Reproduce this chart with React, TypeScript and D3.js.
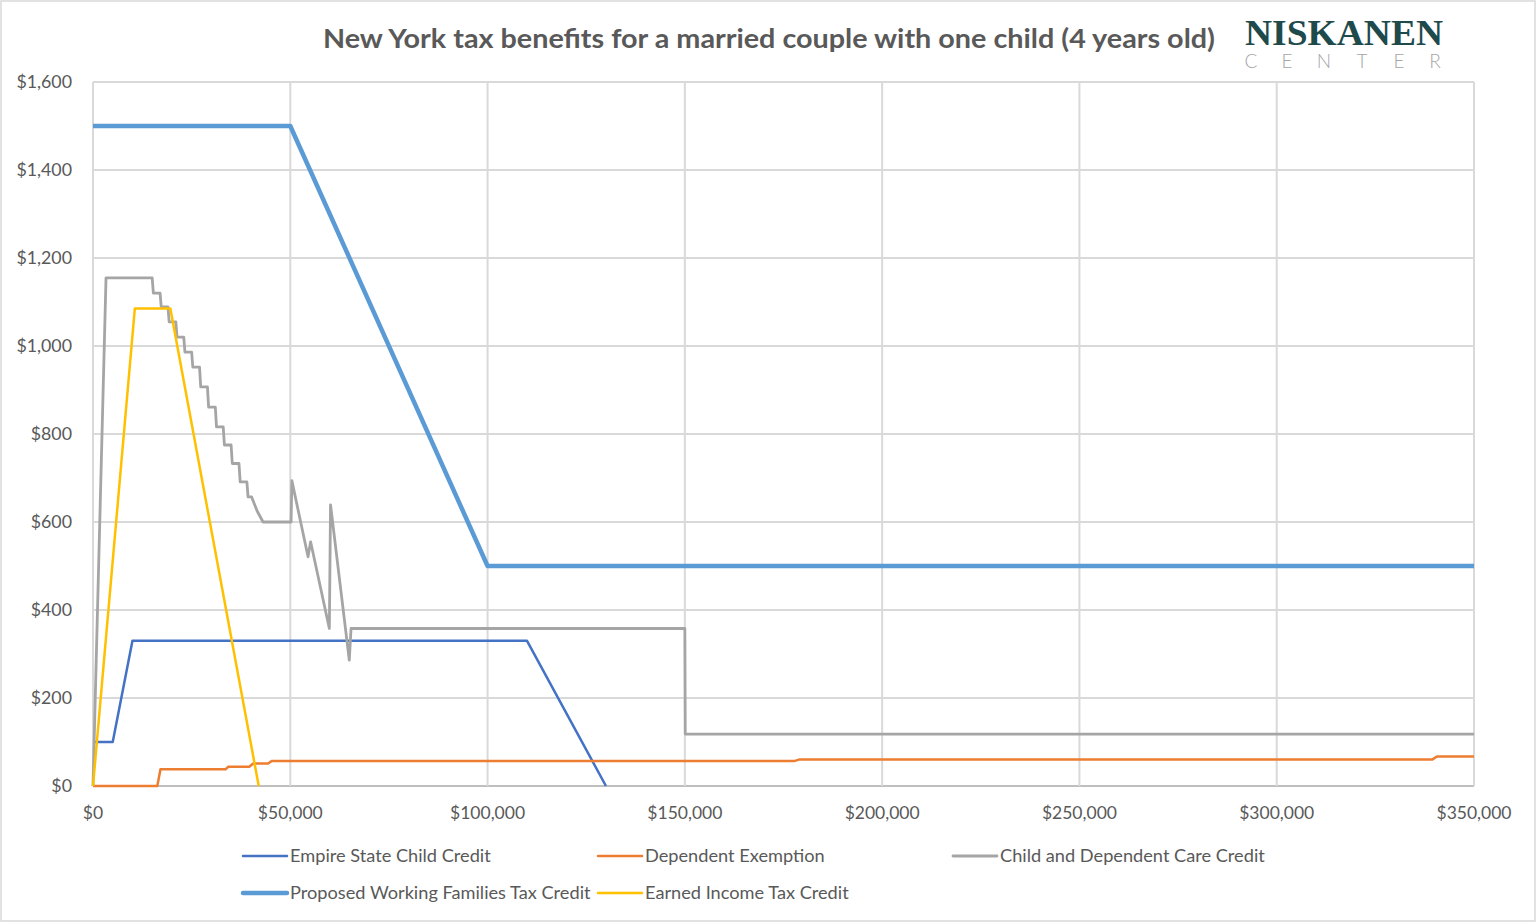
import React from "react";
import * as d3 from "d3";

const incomeTicks = [0, 50000, 100000, 150000, 200000, 250000, 300000, 350000];
const valueTicks = [0, 200, 400, 600, 800, 1000, 1200, 1400, 1600];

const escIncome = [0, 5000, 10000, 110000, 130000];
const escValue = [100, 100, 330, 330, 0];

const depIncome = [0, 16300, 17100, 33600, 34300, 39600, 40600, 44400, 45300, 177900, 178900, 339400, 340600, 350000];
const depValue = [0, 0, 38, 38, 44, 44, 51, 51, 57, 57, 60, 60, 67, 67];

const cdccIncome = [0, 3300, 15000, 15300, 17000, 17300, 19000, 19300, 21000, 21300, 23000, 23300, 25000, 25300, 27000, 27300, 29000, 29300, 31000, 31300, 33000, 33300, 35000, 35300, 37000, 37300, 39000, 39300, 40200, 41600, 43100, 50200, 50400, 54500, 55150, 59900, 60200, 64950, 65400, 150000, 150100, 350000];
const cdccValue = [0, 1155, 1155, 1120, 1120, 1089, 1089, 1055, 1055, 1020, 1020, 986, 986, 952, 952, 907, 907, 861, 861, 816, 816, 775, 775, 733, 733, 691, 691, 657, 657, 625, 600, 600, 694, 521, 555, 358, 639, 286, 358, 358, 118, 118];

const wftcIncome = [0, 50000, 100000, 350000];
const wftcValue = [1500, 1500, 500, 500];

const eitcIncome = [0, 10600, 19600, 42000];
const eitcValue = [0, 1085, 1085, 0];

const seriesNames = [
  "Empire State Child Credit",
  "Dependent Exemption",
  "Child and Dependent Care Credit",
  "Proposed Working Families Tax Credit",
  "Earned Income Tax Credit",
];

const FONT = "Lato, 'Open Sans', sans-serif";
const TXT = "#595959";

export default function App() {
  const W = 1536, H = 923;
  const x = d3.scaleLinear().domain([0, 350000]).range([93, 1474]);
  const y = d3.scaleLinear().domain([0, 1600]).range([786, 82]);
  const line = d3.line<[number, number]>().x((d) => x(d[0])).y((d) => y(d[1]));
  const zip = (a: number[], b: number[]) => a.map((v, i) => [v, b[i]] as [number, number]);

  const series = [
    { name: seriesNames[0], pts: zip(escIncome, escValue), color: "#4472C4", w: 2.5 },
    { name: seriesNames[1], pts: zip(depIncome, depValue), color: "#ED7D31", w: 2.5 },
    { name: seriesNames[2], pts: zip(cdccIncome, cdccValue), color: "#A5A5A5", w: 2.8 },
    { name: seriesNames[3], pts: zip(wftcIncome, wftcValue), color: "#5B9BD5", w: 4.5 },
    { name: seriesNames[4], pts: zip(eitcIncome, eitcValue), color: "#FFC000", w: 2.5 },
  ];

  const legendPos = [
    { lx: 243, row: 0 },
    { lx: 598, row: 0 },
    { lx: 953, row: 0 },
    { lx: 243, row: 1 },
    { lx: 598, row: 1 },
  ];
  const legendY = [856, 893];
  const fmt = (v: number) => "$" + d3.format(",")(v);
  const centerLetters = ["C", "E", "N", "T", "E", "R"];
  const centerX = [1251, 1287, 1324, 1362, 1399, 1435];

  return (
    <svg width={W} height={H} style={{ position: "absolute", left: 0, top: 0, background: "#fff" }} fontFamily={FONT}>
      <rect x={1} y={1} width={1534} height={920} fill="#fff" stroke="#d9d9d9" strokeWidth={1.5} />
      {valueTicks.map((v) => (
        <line key={"gy" + v} x1={93} x2={1474} y1={y(v)} y2={y(v)} stroke={v === 0 ? "#bfbfbf" : "#d9d9d9"} strokeWidth={2} />
      ))}
      {incomeTicks.map((v) => (
        <line key={"gx" + v} x1={x(v)} x2={x(v)} y1={82} y2={786} stroke="#d9d9d9" strokeWidth={2} />
      ))}
      {valueTicks.map((v) => (
        <text key={"ty" + v} x={72} y={y(v)} dy="0.35em" textAnchor="end" fontSize={17.8} fill={TXT}>
          {fmt(v)}
        </text>
      ))}
      {incomeTicks.map((v) => (
        <text key={"tx" + v} x={x(v)} y={819} textAnchor="middle" fontSize={17.5} fill={TXT}>
          {fmt(v)}
        </text>
      ))}
      {series.map((s) => (
        <path key={s.name} d={line(s.pts) || ""} fill="none" stroke={s.color} strokeWidth={s.w} strokeLinejoin="round" />
      ))}
      {series.map((s, i) => (
        <g key={"lg" + i}>
          <line x1={legendPos[i].lx} x2={legendPos[i].lx + 44} y1={legendY[legendPos[i].row]} y2={legendY[legendPos[i].row]} stroke={s.color} strokeWidth={s.w} strokeLinecap="round" />
          <text x={legendPos[i].lx + 47} y={legendY[legendPos[i].row]} dy="0.35em" fontSize={18.2} fill={TXT}>
            {s.name}
          </text>
        </g>
      ))}
      <text x={769} y={48} textAnchor="middle" fontSize={27} fontWeight={700} fill={TXT} textLength={892} lengthAdjust="spacingAndGlyphs">
        New York tax benefits for a married couple with one child (4 years old)
      </text>
      <text x={1245} y={45} fontFamily="'Liberation Serif', 'DejaVu Serif', serif" fontWeight={700} fontSize={35} fill="#1E4A4C" textLength={198} lengthAdjust="spacingAndGlyphs">
        NISKANEN
      </text>
      {centerLetters.map((c, i) => (
        <text key={"c" + i} x={centerX[i]} y={68} textAnchor="middle" fontSize={19} fontWeight={300} fill="#a6a6a6">
          {c}
        </text>
      ))}
    </svg>
  );
}
